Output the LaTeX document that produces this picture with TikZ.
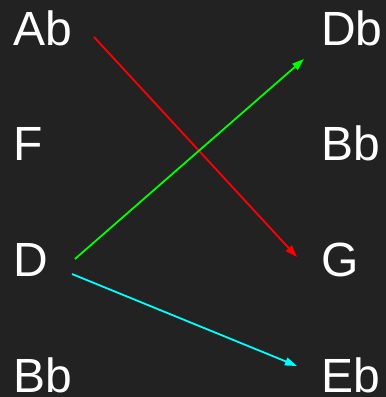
\documentclass[tikz,border=0pt]{standalone}
\usepackage{fontspec}
\setmainfont{Liberation Sans}
\usepackage{xcolor}
\usepackage{tikz}
\usetikzlibrary{arrows.meta,positioning,calc}
\definecolor{ntbg}{HTML}{222222}
\definecolor{ntred}{HTML}{FF0000}
\definecolor{ntgreen}{HTML}{00FF00}
\definecolor{ntcyan}{HTML}{00FFFF}
\tikzset{
  note/.style={inner sep=0pt,outer sep=0pt,text=white,
               font=\fontsize{48bp}{48bp}\selectfont},
  lnote/.style={note,anchor=base west},
  rnote/.style={note,anchor=base west},
  link/.style={-{Triangle[length=12bp,width=8bp]},line width=1.8bp},
}

\begin{document}
\begin{tikzpicture}[x=1bp,y=-1bp]
  \fill[ntbg] (0,0) rectangle (386,397);
  \useasboundingbox (0,0) rectangle (386,397);
  % left column
  \node[lnote] (lab) at (13,45) {Ab};
  \node[lnote] (lf)  at (13,160) {F};
  \node[lnote] (ld)  at (13,276) {D};
  \node[lnote] (lbb) at (13,392) {Bb};
  % right column
  \node[rnote] (rdb) at (321,45) {Db};
  \node[rnote] (rbb) at (321,160) {Bb};
  \node[rnote] (rg)  at (321,276) {G};
  \node[rnote] (reb) at (321,392) {Eb};
  % links
  \draw[link,ntred] ([shift={(22.3,-8)}]lab.base east) -- ([shift={(-24,-19)}]rg.base west);
  \draw[link,ntgreen] ([shift={(27.3,-17)}]ld.base east) -- ([shift={(-17,14)}]rdb.base west);
  \draw[link,ntcyan] ([shift={(24.3,-2)}]ld.base east) -- ([shift={(-24,-26)}]reb.base west);
\end{tikzpicture}
\end{document}
